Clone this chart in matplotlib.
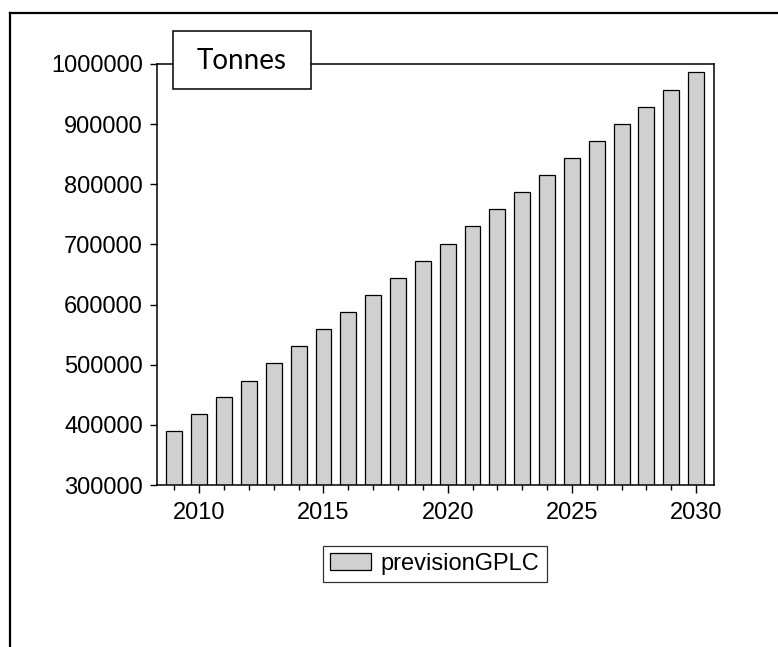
import numpy as np
from matplotlib import pyplot as plt
from matplotlib.patches import Rectangle
from matplotlib.lines import Line2D
from matplotlib.ticker import MultipleLocator

# data
years = [2009, 2010, 2011, 2012, 2013, 2014, 2015, 2016, 2017, 2018, 2019,
         2020, 2021, 2022, 2023, 2024, 2025, 2026, 2027, 2028, 2029, 2030]
prevision = [389800, 418100, 445800, 472900, 503300, 531100, 559400, 587700,
             616000, 644700, 672900, 701200, 730100, 758400, 786700, 814900,
             843200, 871500, 900200, 928000, 956300, 986200]
y_ticks = [300000, 400000, 500000, 600000, 700000, 800000, 900000, 1000000]
x_ticks = [2010, 2015, 2020, 2025, 2030]
series_name = 'previsionGPLC'
unit_label = 'Tonnes'

W, H = 778, 647
plt.rcParams['font.family'] = ['Liberation Sans', 'DejaVu Sans']

fig = plt.figure(figsize=(W/100, H/100), dpi=100)


def fx(px):
    return px/W


def fy(py):
    return 1 - py/H


ax = fig.add_axes([fx(157), fy(485), fx(714)-fx(157), fy(64)-fy(485)])

ax.bar(years, prevision, width=0.64, color='#d0d0d0', edgecolor='black',
       linewidth=0.9, label=series_name)

ax.set_xlim(2008.3, 2030.72)
ax.set_ylim(300000, 1000000)
ax.set_yticks(y_ticks)
ax.set_yticklabels([str(v) for v in y_ticks])
ax.set_xticks(x_ticks)
ax.set_xticklabels([str(v) for v in x_ticks])
ax.xaxis.set_minor_locator(MultipleLocator(1))

# tick sizes in points (px * 0.72)
ax.tick_params(axis='y', which='major', length=5, width=1, pad=5, labelsize=17)
ax.tick_params(axis='x', which='major', length=5.8, width=1, pad=6.5, labelsize=17)
ax.tick_params(axis='x', which='minor', length=3.6, width=1)
for s in ax.spines.values():
    s.set_linewidth(1.1)

# unit box sitting on the top spine
box = Rectangle((fx(173), fy(89)), fx(311)-fx(173), fy(31)-fy(89),
                transform=fig.transFigure, facecolor='white',
                edgecolor='black', linewidth=1.1, zorder=5)
fig.patches.append(box)
fig.text(fx(242), fy(61), unit_label, ha='center', va='center',
         fontsize=20, family=['Lato', 'DejaVu Sans'], zorder=6)

leg = fig.legend(loc='upper left', bbox_to_anchor=(fx(323), fy(546)),
                 fontsize=17, frameon=True, fancybox=False, edgecolor='black',
                 handlelength=1.75, handleheight=0.72, handletextpad=0.4,
                 borderpad=0.3, borderaxespad=0)
leg.get_frame().set_linewidth(0.9)

# outer frame (left and top only visible)
fig.add_artist(Line2D([fx(10), fx(10)], [fy(13), 0], color='black',
                      linewidth=1.6, transform=fig.transFigure))
fig.add_artist(Line2D([fx(10), 1], [fy(13), fy(13)], color='black',
                      linewidth=1.6, transform=fig.transFigure))

fig.savefig('out.png', dpi=100)
